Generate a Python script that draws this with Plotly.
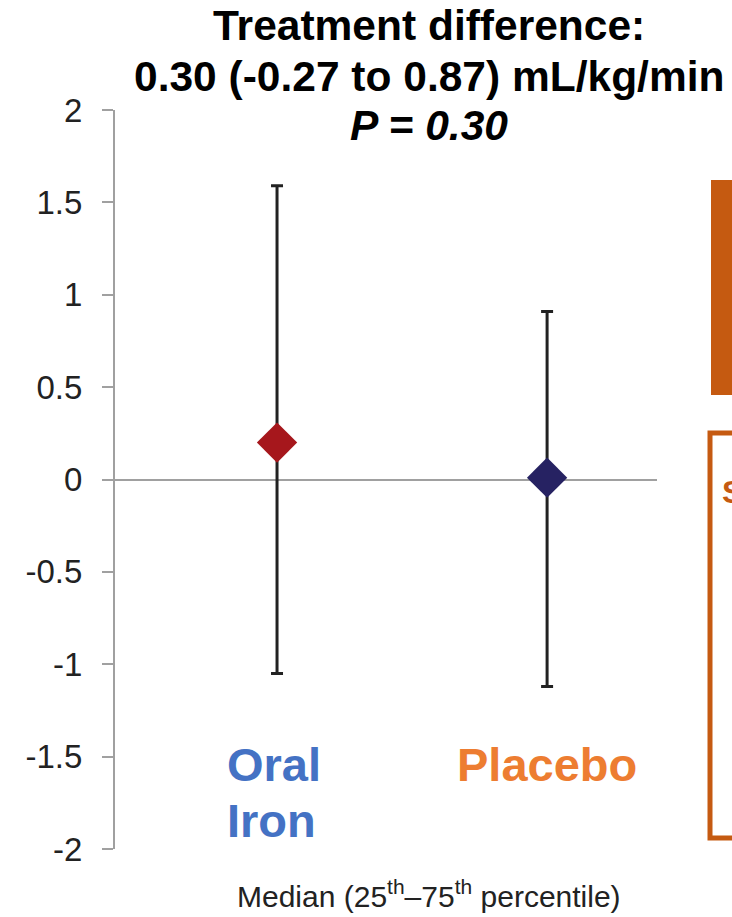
import plotly.graph_objects as go

# ---- data ----
categories = ["Oral Iron", "Placebo"]
medians = [0.20, 0.01]
p25 = [-1.05, -1.12]
p75 = [1.59, 0.91]
marker_colors = ["#A6171C", "#262262"]
label_colors = ["#4472C4", "#ED7D31"]
y_tickvals = [2, 1.5, 1, 0.5, 0, -0.5, -1, -1.5, -2]
y_ticktext = ["2", "1.5", "1", "0.5", "0", "-0.5", "-1", "-1.5", "-2"]
title_lines = ["<b>Treatment difference:</b>",
               "<b>0.30 (-0.27 to 0.87) mL/kg/min</b>",
               "<b><i>P = 0.30</i></b>"]
footnote = "Median (25<sup>th</sup>–75<sup>th</sup> percentile)"

W, H = 732, 917
L, R, T, B = 115, 75, 110, 68
PW, PH = W - L - R, H - T - B

def px(x):
    return (x - L) / PW

def py(y):
    return (H - B - y) / PH

FONT = "Liberation Sans, Arial, Helvetica, sans-serif"

fig = go.Figure()
for i, cat in enumerate(categories):
    fig.add_trace(go.Scatter(
        x=[cat], y=[medians[i]], mode="markers",
        marker=dict(symbol="diamond", size=31, color=marker_colors[i]),
        error_y=dict(type="data", symmetric=False,
                     array=[p75[i] - medians[i]],
                     arrayminus=[medians[i] - p25[i]],
                     color="#222222", thickness=3, width=6),
        showlegend=False, hoverinfo="skip"))

fig.update_xaxes(type="category", categoryorder="array", categoryarray=categories,
                 range=[-0.6, 1.407], showticklabels=False, showgrid=False,
                 zeroline=False, showline=False, ticks="")
fig.update_yaxes(range=[-2, 2], tickvals=y_tickvals, ticktext=y_ticktext,
                 showgrid=False, zeroline=True, zerolinecolor="#A0A0A0", zerolinewidth=2,
                 showline=True, linecolor="#A0A0A0", linewidth=2,
                 ticks="outside", ticklen=11, tickwidth=2, tickcolor="#A0A0A0",
                 ticklabelstandoff=13,
                 tickfont=dict(family=FONT, size=33, color="#222222"))

ann = []
title_y = [26, 76, 125]
for t, yy in zip(title_lines, title_y):
    ann.append(dict(text=t, xref="paper", yref="paper", x=px(429), y=py(yy),
                    xanchor="center", yanchor="middle", showarrow=False,
                    font=dict(family=FONT, size=42.5, color="#000000")))
# category labels
ann.append(dict(text="<b>Oral</b>", xref="paper", yref="paper", x=px(225), y=py(764),
                xanchor="left", yanchor="middle", showarrow=False,
                font=dict(family=FONT, size=47, color=label_colors[0])))
ann.append(dict(text="<b>Iron</b>", xref="paper", yref="paper", x=px(225), y=py(820),
                xanchor="left", yanchor="middle", showarrow=False,
                font=dict(family=FONT, size=47, color=label_colors[0])))
ann.append(dict(text="<b>Placebo</b>", xref="paper", yref="paper", x=px(455), y=py(764),
                xanchor="left", yanchor="middle", showarrow=False,
                font=dict(family=FONT, size=47, color=label_colors[1])))
ann.append(dict(text=footnote, xref="paper", yref="paper", x=px(429), y=py(894),
                xanchor="center", yanchor="middle", showarrow=False,
                font=dict(family=FONT, size=30, color="#222222")))
ann.append(dict(text="<b>S</b>", xref="paper", yref="paper", x=px(720), y=py(492),
                xanchor="left", yanchor="middle", showarrow=False,
                font=dict(family=FONT, size=32, color="#C55A11")))

shapes = [
    dict(type="rect", xref="paper", yref="paper", x0=px(711), x1=px(760),
         y0=py(395), y1=py(180), fillcolor="#C55A11", line=dict(width=0), layer="above"),
    dict(type="rect", xref="paper", yref="paper", x0=px(710), x1=px(790),
         y0=py(838), y1=py(433), fillcolor="rgba(0,0,0,0)",
         line=dict(color="#C55A11", width=5), layer="above"),
]

fig.update_layout(width=W, height=H, margin=dict(l=L, r=R, t=T, b=B),
                  plot_bgcolor="white", paper_bgcolor="white",
                  annotations=ann, shapes=shapes, showlegend=False)

fig.write_html("out.html", config={"displayModeBar": False},
               post_script="document.body.style.margin='0';document.body.style.overflow='hidden';")
